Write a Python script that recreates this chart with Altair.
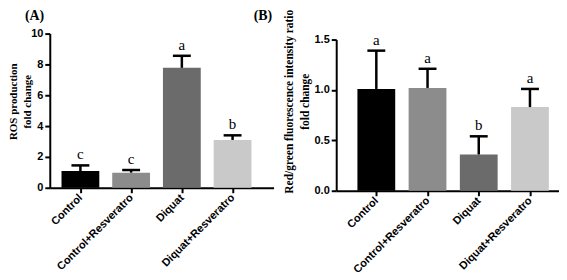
import json
import altair as alt
import pandas as pd

groups = ["Control", "Control+Resveratro", "Diquat", "Diquat+Resveratro"]
bar_colors = ["#000000", "#8c8c8c", "#6b6b6b", "#c9c9c9"]

ros_mean = [1.08, 0.98, 7.78, 3.1]
ros_upper = [1.45, 1.15, 8.56, 3.4]
ros_letters = ["c", "c", "a", "b"]
ros_ticks = [0, 2, 4, 6, 8, 10]

ratio_mean = [1.01, 1.02, 0.36, 0.83]
ratio_upper = [1.39, 1.21, 0.54, 1.01]
ratio_letters = ["a", "a", "b", "a"]
ratio_ticks = [0, 0.5, 1.0, 1.5]

label_expr = json.dumps(groups) + "[datum.value]"


def panel(mean, upper, letters, ticks, ydomain, yfmt, ytitle, xdomain,
          width, height, yrange, title_x, title_y, line_h, title_fs,
          panel_label, panel_dx):
    df = pd.DataFrame({
        "idx": list(range(len(groups))),
        "group": groups,
        "mean": mean,
        "upper": upper,
        "letter": letters,
    })
    xscale = alt.Scale(domain=xdomain, nice=False, zero=False)
    xaxis = alt.Axis(values=[0, 1, 2, 3], labelExpr=label_expr,
                     title=None, grid=False, labelAngle=-45,
                     labelAlign="right", labelBaseline="middle",
                     labelOverlap=False,
                     labelFont="Liberation Sans", labelFontWeight="bold",
                     labelFontSize=11, labelColor="black", labelPadding=3,
                     domainColor="black", domainWidth=2,
                     tickColor="black", tickWidth=2, tickSize=5)
    if yrange is not None:
        yscale = alt.Scale(domain=ydomain, nice=False, zero=True, range=yrange)
    else:
        yscale = alt.Scale(domain=ydomain, nice=False, zero=True)
    yaxis = alt.Axis(values=ticks, format=yfmt,
                     title=ytitle, grid=False,
                     labelOverlap=False,
                     labelFont="Liberation Sans", labelFontWeight="bold",
                     labelFontSize=11, labelColor="black", labelPadding=2,
                     domainColor="black", domainWidth=2,
                     tickColor="black", tickWidth=2, tickSize=5,
                     titleFont="Liberation Serif", titleFontWeight="bold",
                     titleFontSize=title_fs, titleColor="black",
                     titleAngle=-90, titleAlign="center",
                     titleBaseline="top", titleX=title_x, titleY=title_y,
                     titleLineHeight=line_h)
    X = alt.X("idx:Q", scale=xscale, axis=xaxis)
    base = alt.Chart(df)
    bars = base.mark_bar(size=38).encode(
        x=X, y=alt.Y("mean:Q", scale=yscale, axis=yaxis, title=ytitle),
        color=alt.Color("group:N", scale=alt.Scale(domain=groups, range=bar_colors),
                        legend=None))
    err = base.mark_rule(color="black", strokeWidth=2.5).encode(
        x=X, y=alt.Y("mean:Q", scale=yscale, axis=yaxis, title=ytitle), y2="upper:Q")
    cap = base.mark_rule(color="black", strokeWidth=2.5, xOffset=-9, x2Offset=9).encode(
        x=X, x2="idx:Q", y=alt.Y("upper:Q", scale=yscale, axis=yaxis, title=ytitle))
    txt = base.mark_text(font="Liberation Serif", fontSize=15, baseline="alphabetic",
                         dy=-6, color="black").encode(
        x=X, y=alt.Y("upper:Q", scale=yscale, axis=yaxis, title=ytitle),
        text="letter:N")
    lab = alt.Chart(pd.DataFrame({"label": [panel_label]})).mark_text(
        font="Liberation Serif", fontSize=14, fontWeight="bold", color="black",
        align="left", baseline="alphabetic").encode(
        x=alt.value(panel_dx), y=alt.value(-14), text="label:N")
    return alt.layer(bars, err, cap, txt, lab).properties(width=width, height=height)


chart_a = panel(ros_mean, ros_upper, ros_letters, ros_ticks, [0, 10], "d",
                ["ROS production", "fold change"], [-0.506, 3.71],
                225, 155, None, -42, 68, 14, 11, "(A)", -25)
chart_b = panel(ratio_mean, ratio_upper, ratio_letters, ratio_ticks, [0, 1.5], ".1f",
                ["Red/green fluorescence intensity ratio", "fold change"],
                [-0.686, 3.47], 224, 158, [158, 6], -53, 68, 16, 11.5, "(B)", -83)

chart = alt.hconcat(chart_a, chart_b, spacing=63, bounds="flush").properties(
    padding=0, background="white"
).configure_view(stroke=None)

chart.save("out.html", embed_options={"renderer": "svg", "actions": False})
